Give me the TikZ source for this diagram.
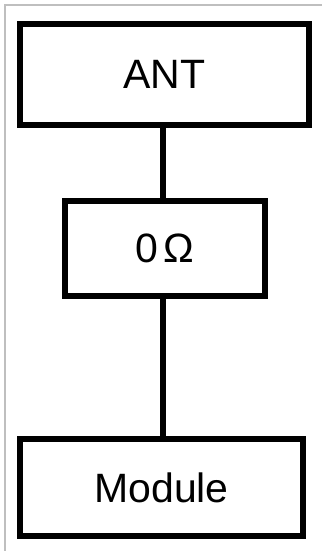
\documentclass[tikz,border=0pt]{standalone}
\usepackage{fontspec}
\setmainfont{Liberation Sans}
\begin{document}
\begin{tikzpicture}[x=1pt,y=-1pt,
  blk/.style={draw=black,line width=5.5pt,fill=white,inner sep=0pt,font=\fontsize{41}{45}\selectfont},
  wire/.style={draw=black,line width=5.5pt}]
\useasboundingbox (0,0) rectangle (322,551);
\fill[white] (0,0) rectangle (322,551);
\draw[gray!50,line width=1.5pt] (5,551) -- (5,5) -- (322,5);
\node[blk,minimum width=289pt,minimum height=101pt] (ant) at (164.5,74.5) {ANT};
\node[blk,minimum width=200pt,minimum height=95pt] (res) at (165,248.5) {0\kern5pt Ω};
\node[blk,minimum width=283pt,minimum height=97pt] (mod) at (161.5,487.5) {Module};
\draw[wire] (ant.south -| 163,0) -- (res.north -| 163,0);
\draw[wire] (res.south -| 163,0) -- (mod.north -| 163,0);
\end{tikzpicture}
\end{document}
